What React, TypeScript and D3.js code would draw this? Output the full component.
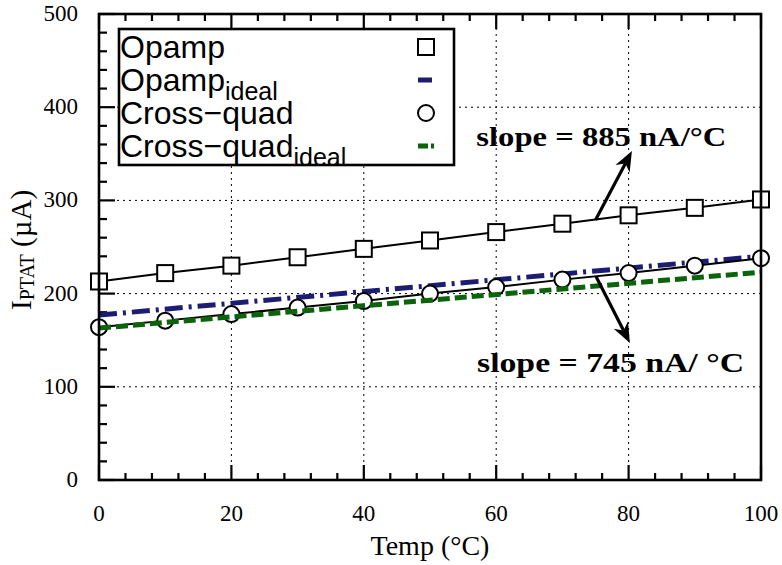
import React from "react";
import { scaleLinear, line, range } from "d3";

// temperatures (°C) where the markers sit
const temps = [0, 10, 20, 30, 40, 50, 60, 70, 80, 90, 100];
// measured currents (µA)
const opamp = [213, 222, 230, 239, 248, 257, 266, 275, 284, 292, 301];
const crossQuad = [164, 171, 178, 185, 192, 200, 207, 215, 222, 230, 238];
// ideal straight lines, given at their two ends
const idealTemps = [0, 100];
const opampIdeal = [177, 240];
const crossQuadIdeal = [163, 223];

const xTicks = [0, 20, 40, 60, 80, 100];
const yTicks = [0, 100, 200, 300, 400, 500];

const W = 782;
const H = 565;
const serif = "'Liberation Serif', 'Times New Roman', serif";
const sans = "'Liberation Sans', Arial, sans-serif";

function App() {
  const x = scaleLinear().domain([0, 100]).range([99, 761]);
  const y = scaleLinear().domain([0, 500]).range([480, 14]);

  const path = (xs: number[], ys: number[]) =>
    line<number>()
      .x((d, i) => x(xs[i]))
      .y((d) => y(d))(ys) || "";

  const xMinor = range(0, 101, 4);
  const yMinor = range(0, 501, 20);

  // arrow: from/to in data coords
  const arrow = (x0: number, y0: number, x1: number, y1: number) => {
    const ax = x(x0), ay = y(y0), bx = x(x1), by = y(y1);
    const dx = bx - ax, dy = by - ay;
    const len = Math.hypot(dx, dy);
    const ux = dx / len, uy = dy / len;
    const hl = 20, hw = 8;
    const baseX = bx - ux * hl, baseY = by - uy * hl;
    const notchX = bx - ux * hl * 0.7, notchY = by - uy * hl * 0.7;
    const head = [
      [bx, by],
      [baseX - uy * hw, baseY + ux * hw],
      [notchX, notchY],
      [baseX + uy * hw, baseY - ux * hw],
    ]
      .map((p) => p.join(","))
      .join(" ");
    return (
      <g>
        <line x1={ax} y1={ay} x2={notchX} y2={notchY} stroke="#000" strokeWidth={3.2} />
        <polygon points={head} fill="#000" />
      </g>
    );
  };

  const legendRows = [
    { main: "Opamp", sub: "", key: "sq" },
    { main: "Opamp", sub: "ideal", key: "navy" },
    { main: "Cross\u2212quad", sub: "", key: "ci" },
    { main: "Cross\u2212quad", sub: "ideal", key: "green" },
  ];

  return (
    <svg
      width={W}
      height={H}
      style={{ position: "absolute", left: 0, top: 0, background: "#fff" }}
    >
      <rect x={0} y={0} width={W} height={H} fill="#fff" />

      {/* grid */}
      {xTicks.slice(1, -1).map((t) => (
        <line key={"gx" + t} x1={x(t)} x2={x(t)} y1={y(0)} y2={y(500)}
          stroke="#000" strokeWidth={1} strokeDasharray="2,4" />
      ))}
      {yTicks.slice(1, -1).map((t) => (
        <line key={"gy" + t} x1={x(0)} x2={x(100)} y1={y(t)} y2={y(t)}
          stroke="#000" strokeWidth={1} strokeDasharray="2,4" />
      ))}

      {/* ticks: bottom, top, left */}
      {xMinor.map((t) => {
        const major = t % 20 === 0;
        const l = major ? 15 : 7;
        return (
          <g key={"xt" + t}>
            <line x1={x(t)} x2={x(t)} y1={y(0)} y2={y(0) - l} stroke="#000" strokeWidth={2.2} />
            <line x1={x(t)} x2={x(t)} y1={y(500)} y2={y(500) + l} stroke="#000" strokeWidth={2.2} />
          </g>
        );
      })}
      {yMinor.map((t) => {
        const major = t % 100 === 0;
        const l = major ? 16 : 8;
        return (
          <line key={"yt" + t} x1={x(0)} x2={x(0) + l} y1={y(t)} y2={y(t)} stroke="#000" strokeWidth={2.2} />
        );
      })}

      {/* opamp */}
      <path d={path(temps, opamp)} fill="none" stroke="#000" strokeWidth={2} />
      {temps.map((t, i) => (
        <rect key={"sq" + t} x={x(t) - 8} y={y(opamp[i]) - 8} width={16} height={16}
          fill="#fff" stroke="#000" strokeWidth={2} />
      ))}
      <path d={path(idealTemps, opampIdeal)} fill="none" stroke="#1c1c72"
        strokeWidth={5} strokeDasharray="18,6,3,6" />

      {/* cross-quad */}
      <path d={path(temps, crossQuad)} fill="none" stroke="#000" strokeWidth={2} />
      {temps.map((t, i) => (
        <circle key={"ci" + t} cx={x(t)} cy={y(crossQuad[i])} r={8}
          fill="#fff" stroke="#000" strokeWidth={2} />
      ))}
      <path d={path(idealTemps, crossQuadIdeal)} fill="none" stroke="#0b640b"
        strokeWidth={5} strokeDasharray="12,5" />

      {/* frame */}
      <rect x={x(0)} y={y(500)} width={x(100) - x(0)} height={y(0) - y(500)}
        fill="none" stroke="#000" strokeWidth={2.6} />

      {/* legend */}
      <rect x={119} y={29} width={335} height={136} fill="#fff" stroke="#000" strokeWidth={2.6} />
      {legendRows.map((r, i) => {
        const cy = 47 + i * 33;
        return (
          <g key={"lg" + i}>
            <text x={120} y={cy + 11} fontFamily={sans} fontSize={32} fill="#000">
              {r.main}
              {r.sub && (
                <tspan fontSize={25} dy={9}>{r.sub}</tspan>
              )}
            </text>
            {r.key === "sq" && (
              <rect x={418} y={cy - 8} width={16} height={16} fill="#fff" stroke="#000" strokeWidth={2} />
            )}
            {r.key === "navy" && (
              <line x1={418} x2={432} y1={cy} y2={cy} stroke="#1c1c72" strokeWidth={5} />
            )}
            {r.key === "ci" && (
              <circle cx={426} cy={cy} r={8} fill="#fff" stroke="#000" strokeWidth={2} />
            )}
            {r.key === "green" && (
              <line x1={418} x2={434} y1={cy} y2={cy} stroke="#0b640b" strokeWidth={5} strokeDasharray="10,3" />
            )}
          </g>
        );
      })}

      {/* tick labels */}
      {xTicks.map((t) => (
        <text key={"xl" + t} x={x(t)} y={521} textAnchor="middle"
          fontFamily={serif} fontSize={23} fill="#000">{t}</text>
      ))}
      {yTicks.map((t) => (
        <text key={"yl" + t} x={78} y={y(t) + 7} textAnchor="end"
          fontFamily={serif} fontSize={23} fill="#000">{t}</text>
      ))}

      {/* axis titles */}
      <text x={430} y={555} textAnchor="middle" fontFamily={serif} fontSize={28} fill="#000">
        Temp (°C)
      </text>
      <text transform="translate(31,250) rotate(-90)" textAnchor="middle"
        fontFamily={serif} fontSize={29} fill="#000">
        I<tspan fontSize={20} dy={3}>PTAT</tspan>
        <tspan dy={-3}> (µA)</tspan>
      </text>

      {/* annotations */}
      {arrow(75, 279, 80.5, 353)}
      {arrow(75.1, 218, 80.2, 147)}
      <text x={x(57)} y={y(358)} fontFamily={serif} fontWeight="bold" fontSize={28}
        textLength={250} lengthAdjust="spacingAndGlyphs" fill="#000">
        slope = 885 nA/°C
      </text>
      <text x={x(57.1)} y={y(116)} fontFamily={serif} fontWeight="bold" fontSize={28}
        textLength={267} lengthAdjust="spacingAndGlyphs" fill="#000">
        slope = 745 nA/ °C
      </text>
    </svg>
  );
}

export default App;
